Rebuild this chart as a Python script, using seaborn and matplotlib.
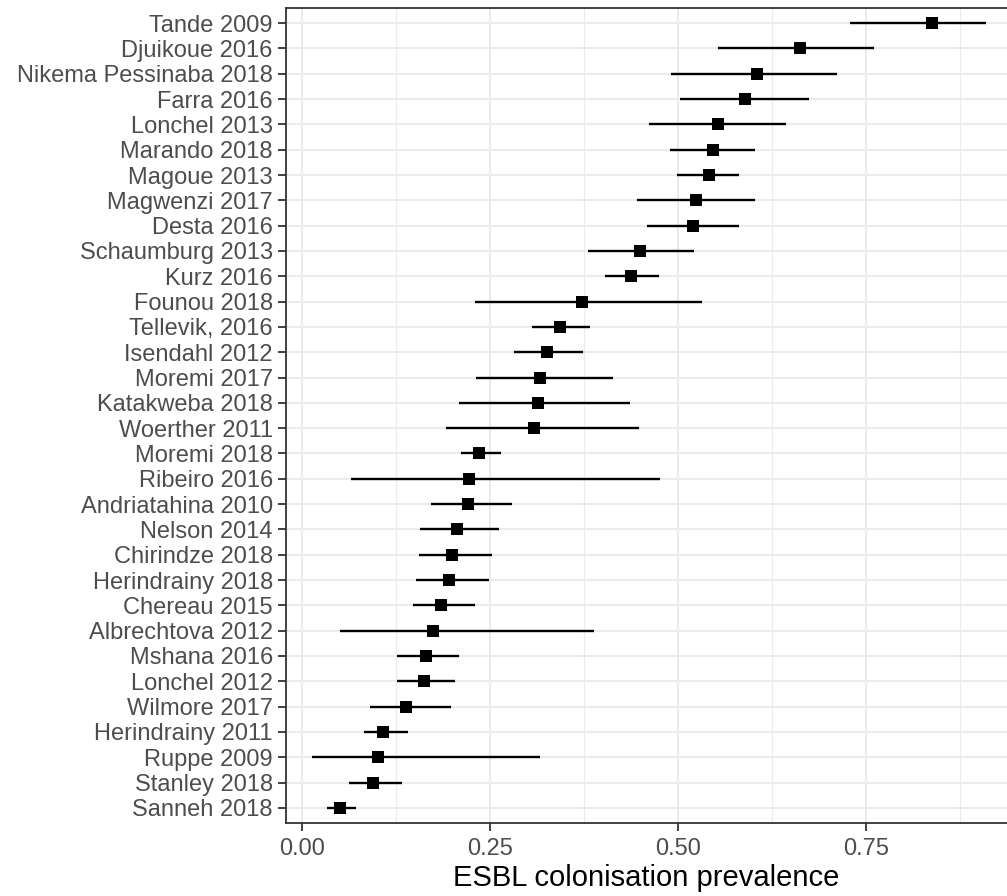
import matplotlib
matplotlib.use("Agg")
import matplotlib.pyplot as plt
import seaborn as sns
import pandas as pd
import numpy as np

studies = ["Tande 2009", "Djuikoue 2016", "Nikema Pessinaba 2018", "Farra 2016",
           "Lonchel 2013", "Marando 2018", "Magoue 2013", "Magwenzi 2017",
           "Desta 2016", "Schaumburg 2013", "Kurz 2016", "Founou 2018",
           "Tellevik, 2016", "Isendahl 2012", "Moremi 2017", "Katakweba 2018",
           "Woerther 2011", "Moremi 2018", "Ribeiro 2016", "Andriatahina 2010",
           "Nelson 2014", "Chirindze 2018", "Herindrainy 2018", "Chereau 2015",
           "Albrechtova 2012", "Mshana 2016", "Lonchel 2012", "Wilmore 2017",
           "Herindrainy 2011", "Ruppe 2009", "Stanley 2018", "Sanneh 2018"]
prevalence = [0.838, 0.662, 0.605, 0.589, 0.553, 0.546, 0.541, 0.524,
              0.520, 0.450, 0.438, 0.372, 0.343, 0.326, 0.317, 0.314,
              0.309, 0.236, 0.222, 0.221, 0.206, 0.200, 0.196, 0.185,
              0.174, 0.165, 0.162, 0.138, 0.108, 0.101, 0.094, 0.050]
ci_lower = [0.729, 0.553, 0.491, 0.502, 0.461, 0.489, 0.499, 0.445,
            0.459, 0.380, 0.403, 0.230, 0.306, 0.282, 0.231, 0.209,
            0.192, 0.211, 0.065, 0.172, 0.157, 0.155, 0.151, 0.147,
            0.050, 0.126, 0.126, 0.091, 0.082, 0.013, 0.063, 0.033]
ci_upper = [0.910, 0.761, 0.711, 0.674, 0.644, 0.602, 0.581, 0.602,
            0.581, 0.521, 0.475, 0.532, 0.383, 0.374, 0.414, 0.436,
            0.448, 0.265, 0.476, 0.279, 0.262, 0.253, 0.249, 0.230,
            0.388, 0.209, 0.204, 0.198, 0.141, 0.317, 0.133, 0.072]

df = pd.DataFrame({"study": studies, "prev": prevalence,
                   "lo": ci_lower, "hi": ci_upper})
df["pos"] = np.arange(len(df))

sns.set_theme(style="white")
plt.rcParams['font.family'] = ['Liberation Sans', 'DejaVu Sans']

W, H = 1007, 896
fig = plt.figure(figsize=(W / 100, H / 100), dpi=100)
left_px, right_px, top_px, bot_px = 286, 1007, 8, 823
ax = fig.add_axes([left_px / W, 1 - bot_px / H, (right_px - left_px) / W,
                   (bot_px - top_px) / H])

# x scale: 0 at px 302, 752 px per unit
x0_px, ppu = 302.0, 752.0
ax.set_xlim((left_px - x0_px) / ppu, (right_px - x0_px) / ppu)
ax.set_ylim(len(df) - 1 + 0.6, -0.6)

# grid
for v in [0.125, 0.375, 0.625, 0.875]:
    ax.axvline(v, color="#EBEBEB", lw=0.8, zorder=0)
for v in [0.0, 0.25, 0.5, 0.75]:
    ax.axvline(v, color="#EBEBEB", lw=1.5, zorder=0)
for p in df["pos"]:
    ax.axhline(p, color="#EBEBEB", lw=1.5, zorder=0)

ax.hlines(df["pos"], df["lo"], df["hi"], color="black", lw=1.7, zorder=2)
sns.scatterplot(data=df, x="prev", y="pos", marker="s", s=74, color="black",
                edgecolor="black", linewidth=0, ax=ax, zorder=3, legend=False)

ax.set_xticks([0, 0.25, 0.5, 0.75])
ax.set_xticklabels(["0.00", "0.25", "0.50", "0.75"])
ax.set_yticks(df["pos"])
ax.set_yticklabels(df["study"])
ax.tick_params(axis="both", which="major", direction="out", length=5.5,
               width=1.3, color="#333333", labelcolor="#4D4D4D",
               labelsize=17, pad=4, left=True, bottom=True)
ax.tick_params(axis="x", pad=5)
ax.set_xlabel("ESBL colonisation prevalence", fontsize=21, color="black",
              labelpad=3)
ax.set_ylabel("")

for side in ["left", "bottom", "top"]:
    ax.spines[side].set_visible(True)
    ax.spines[side].set_color("#333333")
    ax.spines[side].set_linewidth(1.3)
ax.spines["right"].set_visible(False)

fig.savefig("out.png", dpi=100)
